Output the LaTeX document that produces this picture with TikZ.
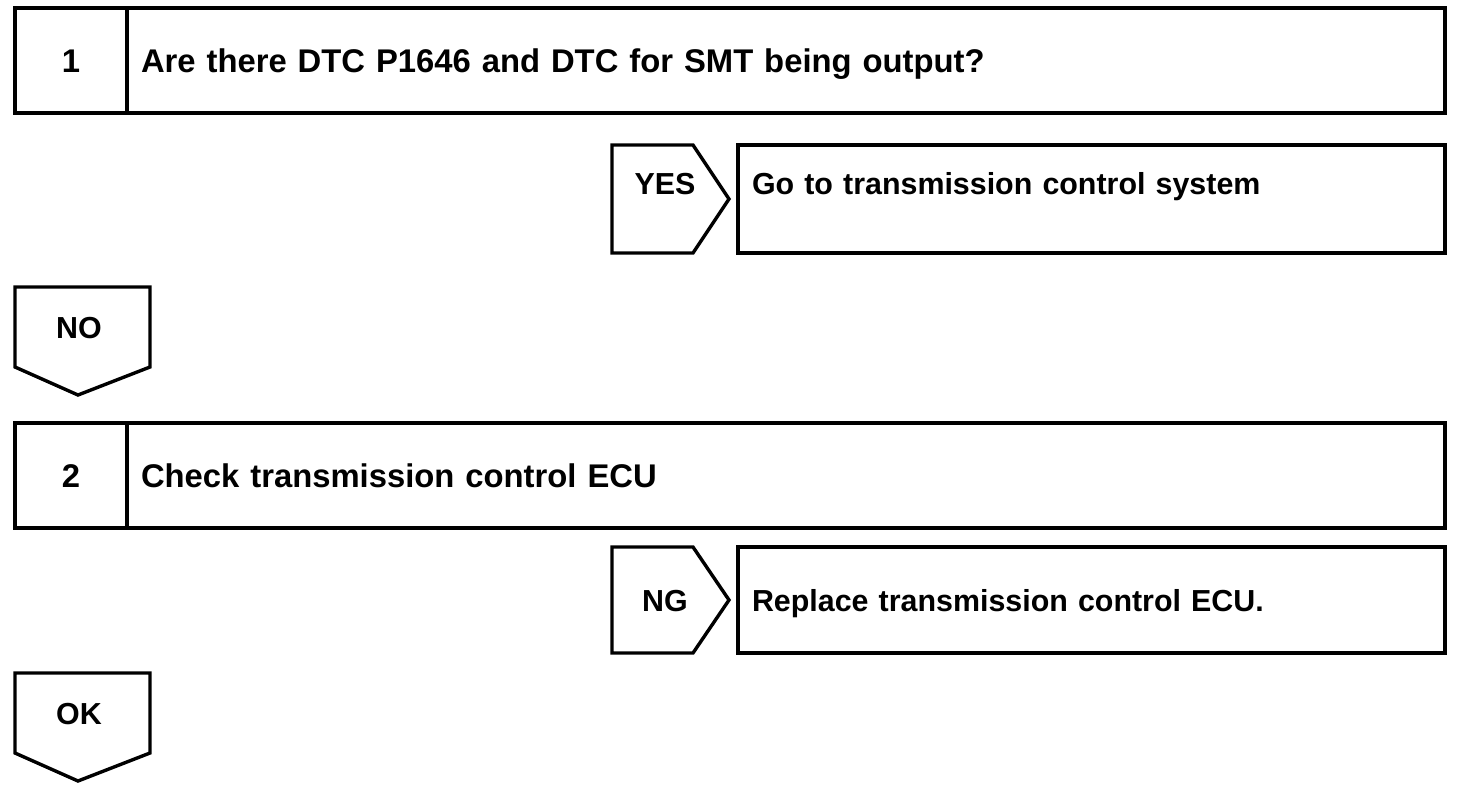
\documentclass[tikz,border=0pt]{standalone}
\usepackage{fontspec}
\setmainfont{Liberation Sans}
\usetikzlibrary{positioning, calc}
\newcommand{\stepfont}{\fontsize{32.8}{40}\selectfont\bfseries}
\newcommand{\tagfont}{\fontsize{30.4}{37}\selectfont\bfseries}

\begin{document}
\begin{tikzpicture}[x=1pt,y=-1pt,
    every node/.style={outer sep=0pt,inner ysep=0pt},
    numbox/.style={draw,line width=3.4pt,minimum width=112pt,text height=64pt,text depth=41pt,font=\stepfont},
    stepbox/.style={draw,line width=3.4pt,text width=1290pt,inner xsep=14pt,align=left,text height=64pt,text depth=41pt,font=\stepfont},
    resultbox/.style={draw,line width=3.4pt,text width=679pt,inner xsep=14pt,align=left,font=\tagfont},
    tag/.style={minimum width=106pt,inner xsep=0pt,font=\tagfont},
    downtag/.style={minimum width=128pt,inner xsep=0pt,text height=51pt,text depth=29pt,font=\tagfont},
    tagline/.style={line width=3.4pt,line join=miter}]
    \useasboundingbox (0,0) rectangle (1472,804);

        \node[numbox,anchor=north west] (n1) at (15,8) {1};
        \node[right=0pt of n1,stepbox] (q1) {Are there DTC P1646 and DTC for SMT being output?};

        \node[below=32pt of q1.south east,anchor=north east,resultbox,text height=49pt,text depth=59pt] (go) {Go to transmission control system};
        \node[left=20pt of go,tag,text height=49pt,text depth=59pt] (yes) {YES};

        \node[downtag,anchor=north west] (no) at (15,287) {NO};

        \node[numbox,anchor=north west] (n2) at (15,423) {2};
        \node[right=0pt of n2,stepbox] (q2) {Check transmission control ECU};

        \node[below=19pt of q2.south east,anchor=north east,resultbox,text height=64pt,text depth=42pt] (rep) {Replace transmission control ECU.};
        \node[left=20pt of rep,tag,text height=64pt,text depth=42pt] (ng) {NG};

        \node[downtag,anchor=north west] (ok) at (15,673) {OK};

        \foreach \t in {yes,ng}
            \draw[tagline] (\t.north west) -- ($(\t.north west)+(81,0)$) -- ($(\t.west)+(117,0)$) -- ($(\t.south west)+(81,0)$) -- (\t.south west) -- cycle;
        \foreach \t in {no,ok}
            \draw[tagline] (\t.north west) -- ($(\t.north west)+(135,0)$) -- ($(\t.south west)+(135,0)$) -- ($(\t.south west)+(63,28)$) -- (\t.south west) -- cycle;

    \end{tikzpicture}
\end{document}
